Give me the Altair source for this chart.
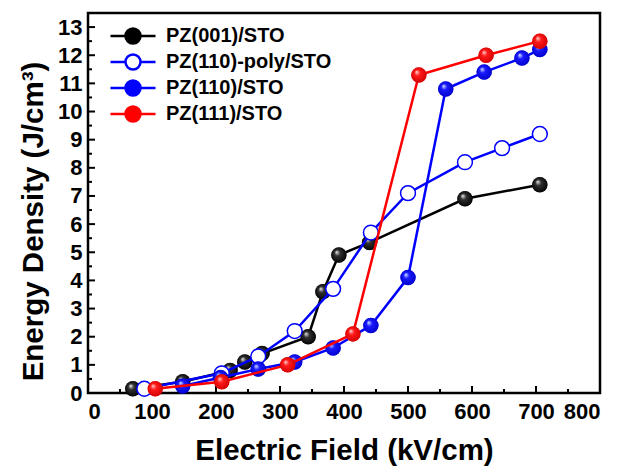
import altair as alt
import pandas as pd

# ---- data ----
series_names = ["PZ(001)/STO", "PZ(110)-poly/STO", "PZ(110)/STO", "PZ(111)/STO"]
line_colors = ["#000000", "#0000ff", "#0000ff", "#ff0000"]
fill_colors = ["#000000", "#ffffff", "#0000ff", "#ff0000"]

pz001_x = [70, 148, 222, 245, 272, 344, 367, 392, 440, 589, 706]
pz001_y = [0.15, 0.4, 0.8, 1.1, 1.4, 2.0, 3.6, 4.9, 5.35, 6.9, 7.4]

pz110poly_x = [88, 209, 266, 323, 383, 442, 500, 589, 647, 706]
pz110poly_y = [0.15, 0.7, 1.3, 2.2, 3.7, 5.7, 7.1, 8.2, 8.7, 9.2]

pz110_x = [148, 207, 266, 323, 383, 442, 500, 559, 619, 678, 706]
pz110_y = [0.25, 0.55, 0.85, 1.1, 1.6, 2.4, 4.1, 10.8, 11.4, 11.9, 12.2]

pz111_x = [105, 209, 312, 414, 517, 622, 706]
pz111_y = [0.15, 0.4, 1.0, 2.1, 11.3, 12.0, 12.5]

x_tick_labels = [0, 100, 200, 300, 400, 500, 600, 700, 800]
x_minor_ticks = [50, 150, 250, 350, 450, 550, 650, 750]
y_tick_labels = list(range(0, 14))
y_minor_ticks = [i + 0.5 for i in range(0, 13)]

xs = [pz001_x, pz110poly_x, pz110_x, pz111_x]
ys = [pz001_y, pz110poly_y, pz110_y, pz111_y]

rows = []
for name, xv, yv in zip(series_names, xs, ys):
    for a, b in zip(xv, yv):
        rows.append({"series": name, "field": a, "energy": b})
df = pd.DataFrame(rows)

FONT = "Liberation Sans"

xscale = alt.Scale(domain=[0, 800], nice=False)
yscale = alt.Scale(domain=[0, 13.5], nice=False)
color_scale = alt.Scale(domain=series_names, range=line_colors)
fill_scale = alt.Scale(domain=series_names, range=fill_colors)

legend_path = "M-3,0L-1,0M1,0L3,0M-1,0A1,1,0,1,1,1,0A1,1,0,1,1,-1,0Z"
legend = alt.Legend(
    title=None, orient="none", legendX=35, legendY=13,
    symbolType=legend_path, symbolSize=225, symbolStrokeWidth=2.5, symbolOpacity=1,
    labelFont=FONT, labelFontSize=20, labelFontWeight="bold", labelColor="black",
    labelOffset=23, labelLimit=400, rowPadding=0, padding=0,
)

x_axis = alt.Axis(
    values=x_tick_labels, labelPadding=8, labelOverlap=False, title="Electric Field (kV/cm)",
    titleY=66, titleBaseline="alphabetic")
y_axis = alt.Axis(
    values=y_tick_labels, labelPadding=6, labelOverlap=False, title="Energy Density (J/cm³)",
    titleX=-46, titleY=208, titleBaseline="alphabetic", titleAlign="center")

x_enc = alt.X("field:Q", scale=xscale, axis=x_axis)
y_enc = alt.Y("energy:Q", scale=yscale, axis=y_axis)

base = alt.Chart(df)

# legend-carrying layer (hidden underneath the real markers)
legend_layer = base.mark_point(filled=False, size=200, strokeWidth=1).encode(
    x=x_enc, y=y_enc,
    color=alt.Color("series:N", scale=color_scale, legend=legend),
    fill=alt.Fill("series:N", scale=fill_scale, legend=legend),
)

def sphere(c_light, c_mid, c_dark):
    return alt.RadialGradient(
        gradient="radial",
        stops=[alt.GradientStop(offset=0, color=c_light),
               alt.GradientStop(offset=0.35, color=c_mid),
               alt.GradientStop(offset=1, color=c_dark)],
        x1=0.35, y1=0.3, r1=0.0, x2=0.5, y2=0.5, r2=0.55)

fills = [
    sphere("#f0f0f0", "#303030", "#000000"),
    None,
    sphere("#d8ecff", "#1a1aff", "#0000c8"),
    sphere("#ffd8d8", "#ff1a1a", "#d00000"),
]

layers = [legend_layer]
for name, col, fl in zip(series_names, line_colors, fills):
    sub = base.transform_filter(alt.datum.series == name)
    layers.append(sub.mark_line(strokeWidth=2.5).encode(
        x=x_enc, y=y_enc,
        color=alt.Color("series:N", scale=color_scale, legend=None)))
    if fl is None:
        layers.append(sub.mark_point(filled=True, size=220, fill="#ffffff",
                                     stroke=col, strokeWidth=1.5, opacity=1).encode(x=x_enc, y=y_enc))
    else:
        layers.append(sub.mark_point(filled=True, size=240, fill=fl,
                                     strokeWidth=0, opacity=1).encode(x=x_enc, y=y_enc))

# inward ticks
xt_major = alt.Chart(pd.DataFrame({"t": x_tick_labels})).mark_rule(color="black", strokeWidth=2).encode(
    x=alt.X("t:Q", scale=xscale, axis=x_axis), y=alt.value(380), y2=alt.value(373))
xt_minor = alt.Chart(pd.DataFrame({"t": x_minor_ticks})).mark_rule(color="black", strokeWidth=2).encode(
    x=alt.X("t:Q", scale=xscale, axis=x_axis), y=alt.value(380), y2=alt.value(376))
yt_major = alt.Chart(pd.DataFrame({"t": y_tick_labels})).mark_rule(color="black", strokeWidth=2).encode(
    y=alt.Y("t:Q", scale=yscale, axis=y_axis), x=alt.value(0), x2=alt.value(7))
yt_minor = alt.Chart(pd.DataFrame({"t": y_minor_ticks})).mark_rule(color="black", strokeWidth=2).encode(
    y=alt.Y("t:Q", scale=yscale, axis=y_axis), x=alt.value(0), x2=alt.value(4))

chart = alt.layer(xt_major, xt_minor, yt_major, yt_minor, *layers).properties(
    width=512, height=380,
    autosize=alt.AutoSizeParams(type="none"),
    padding={"left": 80, "top": 5, "right": 5, "bottom": 76},
).configure_view(stroke="black", strokeWidth=2.5).configure_axis(
    domain=False, ticks=False, grid=False,
    labelFont=FONT, labelFontSize=22, labelFontWeight="bold", labelColor="black",
    titleFont=FONT, titleFontSize=29.5, titleFontWeight="bold", titleColor="black",
)

chart.save("out.html", embed_options={"renderer": "svg", "actions": False})
